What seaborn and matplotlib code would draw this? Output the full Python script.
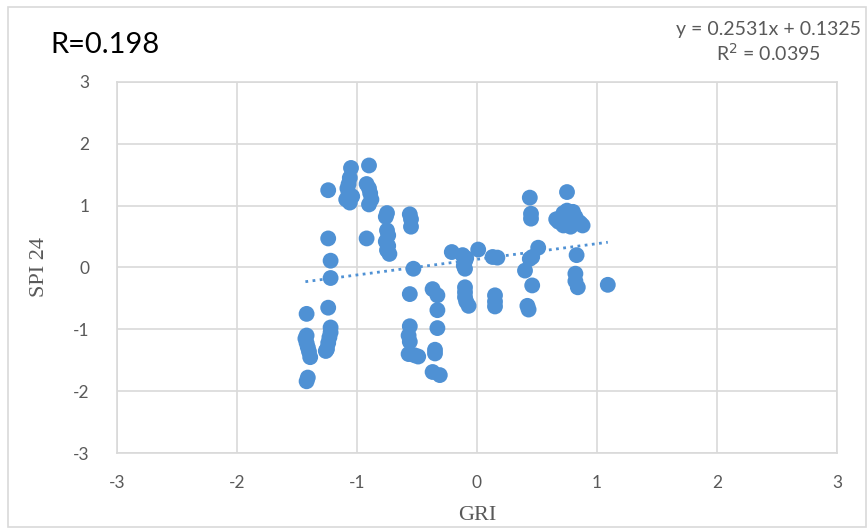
import matplotlib
matplotlib.use("Agg")
import matplotlib.pyplot as plt
import seaborn as sns
import pandas as pd
from matplotlib.patches import Rectangle

# GRI / SPI 24 pairs
gri = [
    -1.42, -1.42, -1.43, -1.42, -1.41, -1.40, -1.39, -1.41, -1.42,
    -1.24, -1.24, -1.22, -1.22, -1.24, -1.22, -1.22, -1.23, -1.24, -1.25, -1.26,
    -1.05, -1.06, -1.07, -1.08, -1.07, -1.09, -1.06, -1.04,
    -0.90, -0.92, -0.90, -0.89, -0.88, -0.90, -0.92,
    -0.75, -0.76, -0.75, -0.74, -0.76, -0.74, -0.75, -0.73,
    -0.56, -0.55, -0.55, -0.53, -0.56, -0.56, -0.57, -0.56, -0.57, -0.49, -0.52,
    -0.37, -0.33, -0.33, -0.33, -0.35, -0.35, -0.37, -0.31,
    -0.21,
    -0.12, -0.09, -0.10, -0.11, -0.10, 0.01, -0.10, -0.10, -0.10, -0.09, -0.07,
    0.13, 0.17, 0.15, 0.15, 0.15,
    0.44, 0.45, 0.45, 0.51, 0.46, 0.44, 0.40, 0.46, 0.42, 0.43,
    0.75, 0.66, 0.68, 0.72, 0.75, 0.78, 0.80, 0.76, 0.72, 0.80, 0.84, 0.88, 0.86,
    0.74, 0.82, 0.70, 0.78,
    0.83, 0.82, 0.82, 0.84,
    1.09,
]
spi24 = [
    -0.75, -1.10, -1.15, -1.22, -1.29, -1.36, -1.45, -1.78, -1.84,
    1.25, 0.47, 0.11, -0.17, -0.65, -0.97, -1.05, -1.13, -1.22, -1.32, -1.35,
    1.61, 1.45, 1.35, 1.28, 1.20, 1.10, 1.05, 1.15,
    1.65, 1.35, 1.28, 1.20, 1.10, 1.02, 0.47,
    0.88, 0.82, 0.60, 0.52, 0.42, 0.35, 0.28, 0.22,
    0.86, 0.78, 0.66, -0.02, -0.43, -0.95, -1.10, -1.20, -1.40, -1.44, -1.42,
    -0.35, -0.45, -0.69, -0.98, -1.33, -1.39, -1.69, -1.74,
    0.25,
    0.20, 0.15, 0.10, 0.03, -0.02, 0.29, -0.32, -0.40, -0.48, -0.55, -0.62,
    0.17, 0.16, -0.45, -0.55, -0.63,
    1.13, 0.87, 0.79, 0.32, 0.17, 0.14, -0.05, -0.29, -0.62, -0.68,
    1.22, 0.78, 0.74, 0.88, 0.92, 0.86, 0.90, 0.72, 0.68, 0.70, 0.75, 0.68, 0.72,
    0.80, 0.82, 0.80, 0.66,
    0.20, -0.10, -0.22, -0.32,
    -0.28,
]

# linear trend reported on the chart
slope = 0.2531
intercept = 0.1325
r2 = 0.0395
r_value = 0.198

axis_ticks = [-3, -2, -1, 0, 1, 2, 3]

df = pd.DataFrame({"GRI": gri, "SPI 24": spi24})

sns.set_theme(style="white")
plt.rcParams["font.family"] = ["Lato", "DejaVu Sans"]

W, H = 868, 529
fig = plt.figure(figsize=(W / 100, H / 100), dpi=100)
ax = fig.add_axes([117 / W, 1 - 453 / H, (837 - 117) / W, (453 - 82) / H])

blue = "#4F91D4"
grid_c = "#D9D9D9"
text_c = "#595959"

sns.scatterplot(data=df, x="GRI", y="SPI 24", ax=ax, color=blue, s=130,
                edgecolor="none", linewidth=0, zorder=3)

# dotted trend line across the data range
x0, x1 = min(gri), max(gri)
ax.plot([x0, x1], [slope * x0 + intercept, slope * x1 + intercept],
        color=blue, lw=2.0, linestyle=(0, (1, 1.6)), zorder=4)

ax.set_xlim(-3, 3)
ax.set_ylim(-3, 3)
ax.set_xticks(axis_ticks)
ax.set_yticks(axis_ticks)
ax.set_xticklabels([str(t) for t in axis_ticks])
ax.set_yticklabels([str(t) for t in axis_ticks])
ax.grid(True, color=grid_c, lw=1.2, zorder=0)
ax.set_axisbelow(True)
for sp in ax.spines.values():
    sp.set_color(grid_c)
    sp.set_linewidth(1.2)
ax.tick_params(axis="both", length=0, labelsize=12.5, labelcolor=text_c)
ax.tick_params(axis="x", pad=16)
ax.tick_params(axis="y", pad=20)

ax.set_xlabel("GRI", family="Liberation Serif", fontsize=16, color=text_c, labelpad=11)
ax.set_ylabel("SPI 24", family="Liberation Serif", fontsize=16, color=text_c, labelpad=17)

fig.text(50 / W, 1 - 45 / H, f"R={r_value}", fontsize=21, color="black",
         va="center", ha="left")
fig.text(768 / W, 1 - 30 / H, f"y = {slope}x + {intercept}", fontsize=14,
         color=text_c, va="center", ha="center")
fig.text(768 / W, 1 - 53 / H, f"R$^2$ = {r2}", fontsize=14,
         color=text_c, va="center", ha="center")

# outer chart border
fig.patches.append(Rectangle((8 / W, 1 - 527 / H), (866 - 8) / W, (527 - 7) / H,
                             transform=fig.transFigure, fill=False,
                             edgecolor=grid_c, lw=1.2))

fig.savefig("out.png", dpi=100)
